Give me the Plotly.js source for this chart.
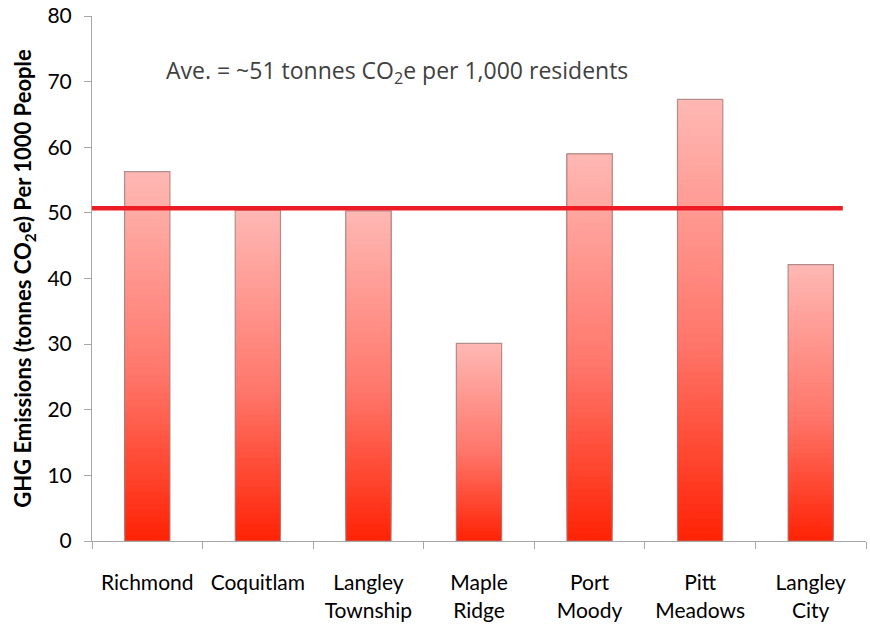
<!DOCTYPE html>
<html>
<head>
<meta charset="utf-8">
<script src="https://cdn.plot.ly/plotly-3.0.1.min.js"></script>
<style>html,body{margin:0;padding:0;background:#fff;}#chart{width:870px;height:626px;}</style>
</head>
<body>
<div id="chart"></div>
<script>
const categories = ['Richmond', 'Coquitlam', 'Langley<br>Township', 'Maple<br>Ridge', 'Port<br>Moody', 'Pitt<br>Meadows', 'Langley<br>City'];
const emissions = [56.3, 50.4, 50.3, 30.1, 59.0, 67.3, 42.1];
const average = 50.7;
const yTickVals = [0, 10, 20, 30, 40, 50, 60, 70, 80];
const avgLabel = 'Ave. = ~51 tonnes CO<sub>2</sub>e per 1,000 residents';
const yTitle = 'GHG Emissions (tonnes CO<sub>2</sub>e) Per 1000 People';

const BAR_W = 0.41;
const N = 60;
const stops = [[0, [255, 34, 4]], [0.45, [255, 118, 106]], [1, [255, 184, 180]]];
function colorAt(t) {
  for (let i = 1; i < stops.length; i++) {
    if (t <= stops[i][0]) {
      const [t0, c0] = stops[i - 1], [t1, c1] = stops[i];
      const f = (t - t0) / (t1 - t0);
      const c = c0.map((v, j) => Math.round(v + (c1[j] - v) * f));
      return 'rgb(' + c.join(',') + ')';
    }
  }
  return 'rgb(' + stops[stops.length - 1][1].join(',') + ')';
}

const traces = [];
for (let k = 0; k < N; k++) {
  traces.push({
    type: 'bar',
    x: categories,
    base: emissions.map(v => v * k / N),
    y: emissions.map(v => v * (1 - k / N)),
    width: BAR_W,
    marker: {color: colorAt((k + 0.5) / N), line: {width: 0}},
    hoverinfo: 'skip',
    showlegend: false
  });
}
traces.push({
  type: 'bar',
  x: categories,
  y: emissions,
  base: emissions.map(() => 0),
  width: BAR_W,
  marker: {color: 'rgba(0,0,0,0)', line: {width: 1.2, color: 'rgba(160,130,130,0.8)'}},
  hoverinfo: 'skip',
  showlegend: false
});

const layout = {
  width: 870,
  height: 626,
  margin: {l: 92, r: 4, t: 16, b: 85},
  paper_bgcolor: '#ffffff',
  plot_bgcolor: '#ffffff',
  barmode: 'overlay',
  showlegend: false,
  font: {family: 'Lato, "Open Sans", sans-serif', color: '#000'},
  xaxis: {
    type: 'category',
    range: [-0.5, 6.5],
    showgrid: false,
    zeroline: false,
    showline: true,
    linecolor: '#a6a6a6',
    linewidth: 1,
    ticks: 'outside',
    tickson: 'boundaries',
    ticklen: 7,
    tickcolor: '#a6a6a6',
    ticklabelstandoff: 23,
    tickfont: {family: 'Lato, "Open Sans", sans-serif', size: 21, color: '#000', lineposition: 'none'}
  },
  yaxis: {
    range: [0, 80],
    tickvals: yTickVals,
    showgrid: false,
    zeroline: false,
    showline: true,
    linecolor: '#a6a6a6',
    linewidth: 1,
    ticks: 'outside',
    ticklen: 7,
    tickcolor: '#a6a6a6',
    ticklabelstandoff: 8,
    tickfont: {family: 'Lato, "Open Sans", sans-serif', size: 21, color: '#000'},
    title: {text: yTitle, font: {family: 'Lato, sans-serif', size: 22, color: '#000', weight: 'bold'}, standoff: 9}
  },
  shapes: [{
    type: 'line',
    xref: 'x', yref: 'y',
    x0: -0.5, x1: 6.29,
    y0: average, y1: average,
    line: {color: '#ed1c24', width: 4.5},
    layer: 'above'
  }],
  annotations: [{
    xref: 'paper', yref: 'paper',
    x: 0.093, y: 0.895,
    xanchor: 'left', yanchor: 'middle',
    showarrow: false,
    text: avgLabel,
    font: {family: '"Open Sans", sans-serif', size: 23, color: '#404040'}
  }]
};

Plotly.newPlot('chart', traces, layout, {displayModeBar: false, staticPlot: true});
</script>
</body>
</html>
